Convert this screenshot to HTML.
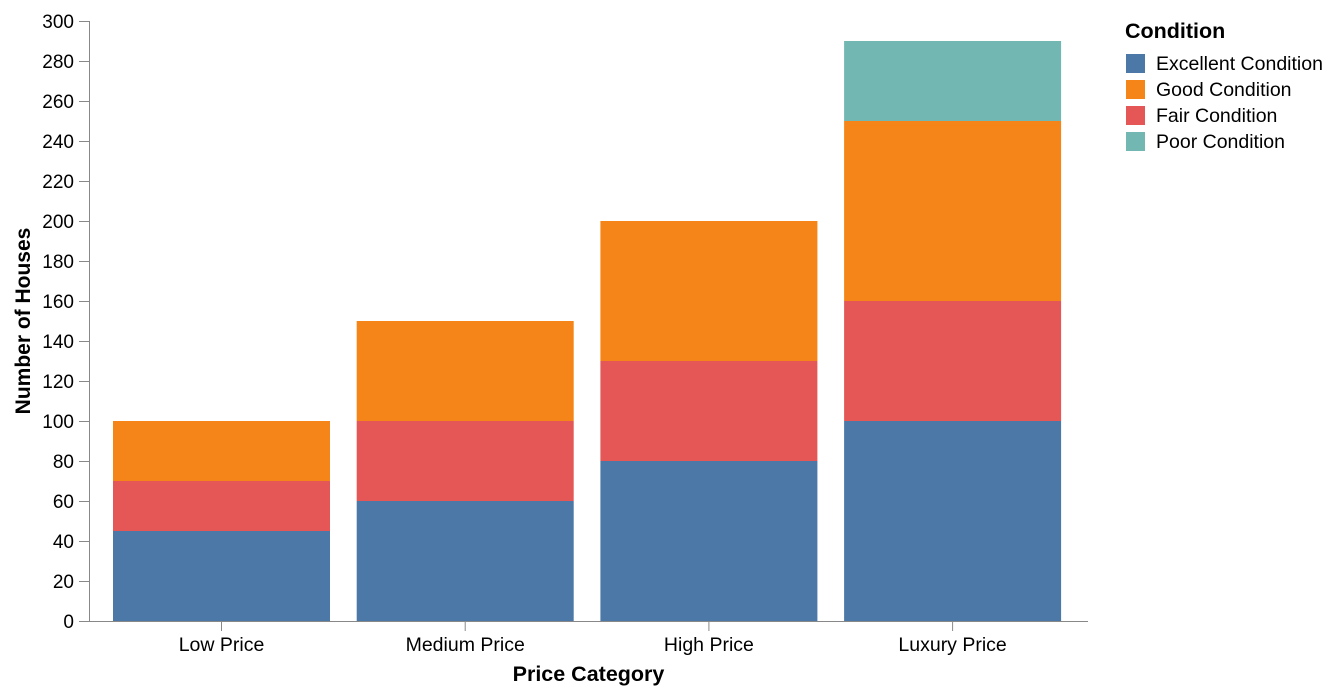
<!DOCTYPE html>
<html><head><meta charset="utf-8"><style>
body{margin:0;background:#fff;}
svg{display:block;font-family:"Liberation Sans",Arial,sans-serif;}
</style></head><body>
<svg id="chart" width="1338" height="694"></svg>
<script>
const categories=["Low Price","Medium Price","High Price","Luxury Price"];
const seriesNames=["Excellent Condition","Fair Condition","Good Condition","Poor Condition"];
const excellent=[45,60,80,100];
const fair=[25,40,50,60];
const good=[30,50,70,90];
const poor=[0,0,0,40];
const yTicks=[0,20,40,60,80,100,120,140,160,180,200,220,240,260,280,300];
const legendNames=["Excellent Condition","Good Condition","Fair Condition","Poor Condition"];

const colors={"Excellent Condition":"#4c78a8","Good Condition":"#f58518","Fair Condition":"#e45756","Poor Condition":"#72b7b2"};
const NS="http://www.w3.org/2000/svg";
const svg=document.getElementById('chart');
const X0=89,X1=1088,Y0=621,Y1=21,YMAX=300;
const y=v=>Y0-(v/YMAX)*(Y0-Y1);
const step=243.7, firstCenter=221.5, bw=217;
const cx=i=>firstCenter+step*i;
function el(tag,attrs,parent){const e=document.createElementNS(NS,tag);for(const k in attrs)e.setAttribute(k,attrs[k]);(parent||svg).appendChild(e);return e;}

// y axis
const yAxis=el('g',{});


el('line',{x1:X0+0.5,x2:X0+0.5,y1:Y1,y2:Y0,stroke:'#888'},yAxis);
yTicks.forEach(t=>{
  el('line',{x1:X0-10,x2:X0,y1:y(t)+0.5,y2:y(t)+0.5,stroke:'#888'},yAxis);
  const tx=el('text',{x:X0-15,y:y(t)+7,'text-anchor':'end','font-size':19,fill:'#000'},yAxis);
  tx.textContent=t;
  
  
});
const yt=el('text',{transform:`translate(30,321) rotate(-90)`,'text-anchor':'middle','font-size':21,'font-weight':'bold'});
yt.textContent='Number of Houses';



// bars
const series={"Excellent Condition":excellent,"Fair Condition":fair,"Good Condition":good,"Poor Condition":poor};
categories.forEach((c,i)=>{
  let base=0;
  seriesNames.forEach(s=>{
    const v=series[s][i];
    if(v>0){
      const r=el('rect',{x:cx(i)-bw/2,y:y(base+v),width:bw,height:y(base)-y(base+v),fill:colors[s]});
      
      
    }
    base+=v;
  });
});

// x axis
const xAxis=el('g',{});


el('line',{x1:X0,x2:X1,y1:Y0+0.5,y2:Y0+0.5,stroke:'#888'},xAxis);
categories.forEach((c,i)=>{
  el('line',{x1:cx(i),x2:cx(i),y1:Y0,y2:Y0+10,stroke:'#888'},xAxis);
  const tx=el('text',{x:cx(i),y:651,'text-anchor':'middle','font-size':19.5},xAxis);
  tx.textContent=c;
  
  
});
const xt=el('text',{x:(X0+X1)/2,y:681,'text-anchor':'middle','font-size':21.5,'font-weight':'bold'});
xt.textContent='Price Category';



// legend
const lg=el('g',{});


const lt=el('text',{x:1125,y:38,'font-size':21.5,'font-weight':'bold'},lg);
lt.textContent='Condition';


legendNames.forEach((s,k)=>{
  const g=el('g',{},lg);
  
  
  el('rect',{x:1126,y:54+26*k,width:19,height:19,fill:colors[s]},g);
  const t=el('text',{x:1156,y:70+26*k,'font-size':19.5},g);
  t.textContent=s;
});
</script>
</body></html>
